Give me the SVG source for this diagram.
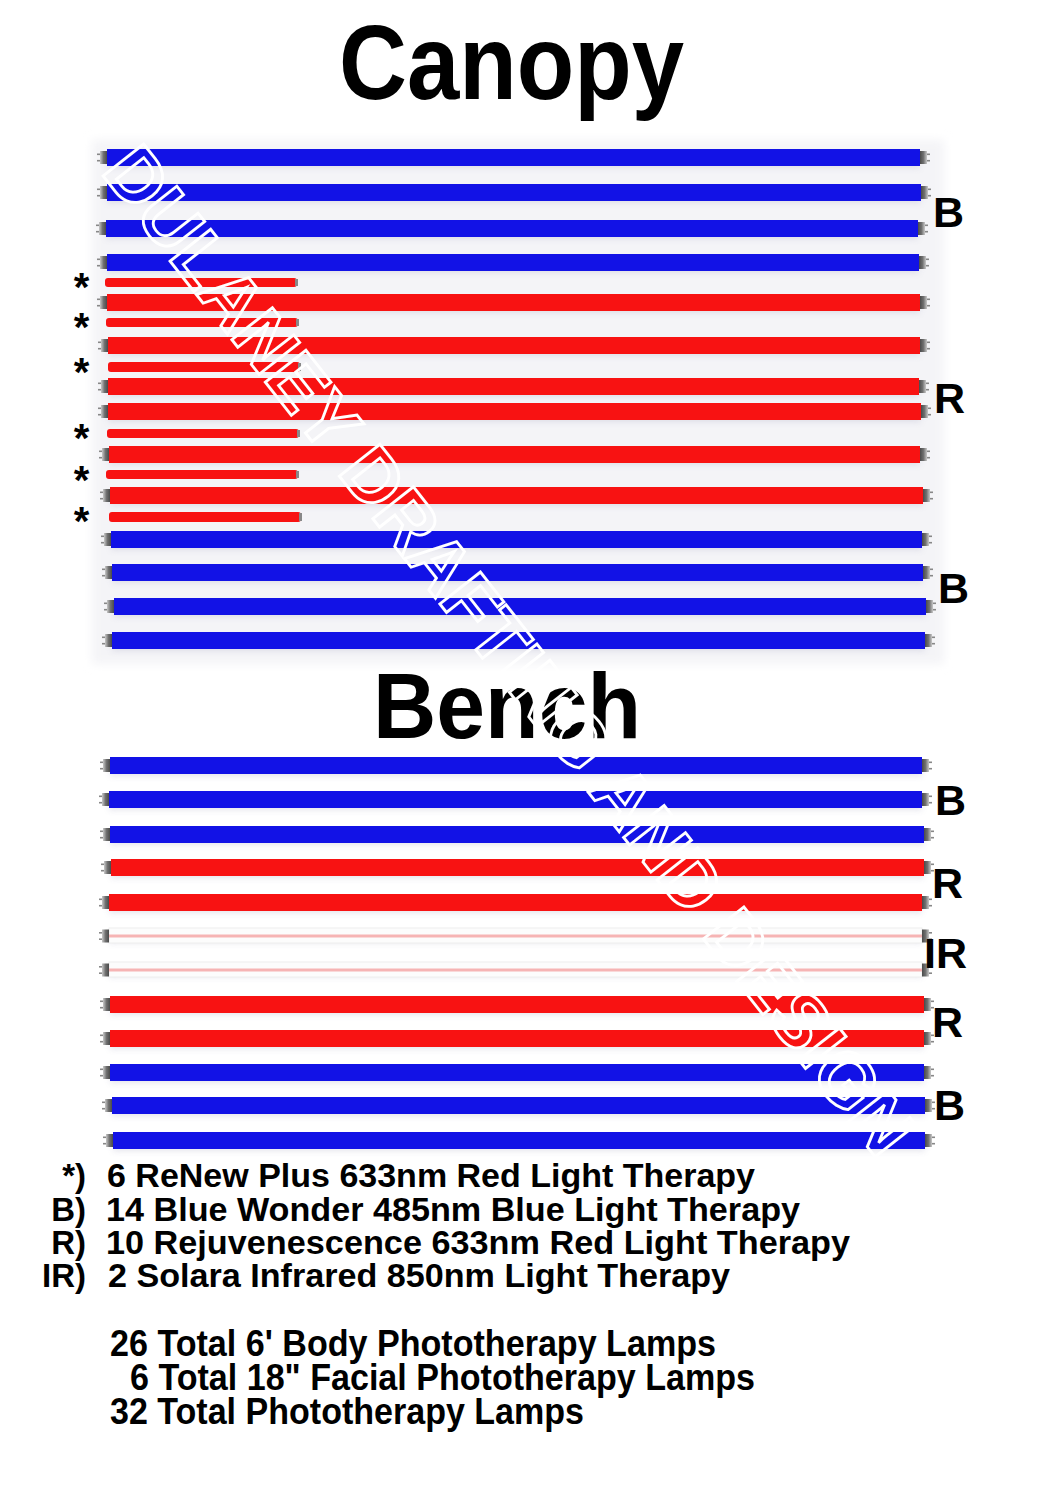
<svg xmlns="http://www.w3.org/2000/svg" width="1040" height="1500" viewBox="0 0 1040 1500">
<style>
  .t { font-family: "Liberation Sans", Arial, sans-serif; font-weight: bold; fill: #000; }
  .title { font-size: 106px; }
  .lbl { font-size: 43px; }
  .ast { font-size: 40px; text-anchor: middle; }
  .leg { font-size: 33px; }
  .leg2 { font-size: 36px; }
  .blue { fill: #1212e6; }
  .red { fill: #f81212; }
  .shadow { fill: #c4c4d6; opacity: 0.45; filter: url(#blur); }
  .ir { fill: #fcfcfc; stroke: #eeeeee; stroke-width: 1; }
  .irline { fill: #f6b4b4; }
  .wm { font-family: "Liberation Sans", Arial, sans-serif; font-weight: bold; font-size: 75px; fill: none; stroke: #ffffff; stroke-width: 2.8; }
</style>
<defs>
  <filter id="blur" x="-5%" y="-100%" width="110%" height="300%"><feGaussianBlur stdDeviation="3"/></filter>
  <filter id="bgblur" x="-5%" y="-5%" width="110%" height="110%"><feGaussianBlur stdDeviation="5"/></filter>
  <linearGradient id="capGrad" x1="0" y1="0" x2="1" y2="0">
    <stop offset="0" stop-color="#c8c8c8"/>
    <stop offset="0.5" stop-color="#707070"/>
    <stop offset="1" stop-color="#4a4a4a"/>
  </linearGradient>
  <linearGradient id="capGradR" x1="1" y1="0" x2="0" y2="0">
    <stop offset="0" stop-color="#c8c8c8"/>
    <stop offset="0.5" stop-color="#707070"/>
    <stop offset="1" stop-color="#4a4a4a"/>
  </linearGradient>
  <g id="capL">
    <rect x="-7" y="-6.5" width="7" height="13" fill="url(#capGrad)"/>
    <rect x="-10" y="-4" width="3" height="1.6" fill="#888"/>
    <rect x="-10" y="2.4" width="3" height="1.6" fill="#888"/>
  </g>
  <g id="capR">
    <rect x="0" y="-6.5" width="7" height="13" fill="url(#capGradR)"/>
    <rect x="7" y="-4" width="3" height="1.6" fill="#888"/>
    <rect x="7" y="2.4" width="3" height="1.6" fill="#888"/>
  </g>
</defs>

<rect width="1040" height="1500" fill="#ffffff"/>
<rect x="92" y="140" width="852" height="524" fill="#f4f4f7" filter="url(#bgblur)"/>

<g id="title-canopy"><text class="t title" x="339" y="99" textLength="345" lengthAdjust="spacingAndGlyphs">Canopy</text></g>

<g id="canopy-tubes">
  <g id="c-b1"><rect class="shadow" x="107" y="155" width="813" height="13"/><rect class="blue" x="107" y="149" width="813" height="17"/><use href="#capL" x="107" y="157.5"/><use href="#capR" x="920" y="157.5"/></g>
  <g id="c-b2"><rect class="shadow" x="107" y="190" width="814" height="13"/><rect class="blue" x="107" y="184" width="814" height="17"/><use href="#capL" x="107" y="192.5"/><use href="#capR" x="921" y="192.5"/></g>
  <g id="c-b3"><rect class="shadow" x="106" y="226" width="812" height="13"/><rect class="blue" x="106" y="220" width="812" height="17"/><use href="#capL" x="106" y="228.5"/><use href="#capR" x="918" y="228.5"/></g>
  <g id="c-b4"><rect class="shadow" x="107" y="260" width="812" height="13"/><rect class="blue" x="107" y="254" width="812" height="17"/><use href="#capL" x="107" y="262.5"/><use href="#capR" x="919" y="262.5"/></g>
  <g id="c-s1"><rect class="red" x="105" y="278" width="192" height="9" rx="3"/><rect x="295" y="279" width="3" height="7" fill="#888"/></g>
  <g id="c-r1"><rect class="shadow" x="107" y="300" width="813" height="13"/><rect class="red" x="107" y="294" width="813" height="17"/><use href="#capL" x="107" y="302.5"/><use href="#capR" x="920" y="302.5"/></g>
  <g id="c-s2"><rect class="red" x="106" y="318" width="192" height="9" rx="3"/><rect x="296" y="319" width="3" height="7" fill="#888"/></g>
  <g id="c-r2"><rect class="shadow" x="108" y="343" width="812" height="13"/><rect class="red" x="108" y="337" width="812" height="17"/><use href="#capL" x="108" y="345.5"/><use href="#capR" x="920" y="345.5"/></g>
  <g id="c-s3"><rect class="red" x="108" y="362" width="192" height="10" rx="3"/><rect x="298" y="363" width="3" height="8" fill="#888"/></g>
  <g id="c-r3"><rect class="shadow" x="108" y="384" width="811" height="13"/><rect class="red" x="108" y="378" width="811" height="17"/><use href="#capL" x="108" y="386.5"/><use href="#capR" x="919" y="386.5"/></g>
  <g id="c-r4"><rect class="shadow" x="108" y="409" width="813" height="13"/><rect class="red" x="108" y="403" width="813" height="17"/><use href="#capL" x="108" y="411.5"/><use href="#capR" x="921" y="411.5"/></g>
  <g id="c-s4"><rect class="red" x="107" y="429" width="192" height="9" rx="3"/><rect x="297" y="430" width="3" height="7" fill="#888"/></g>
  <g id="c-r5"><rect class="shadow" x="109" y="452" width="811" height="13"/><rect class="red" x="109" y="446" width="811" height="17"/><use href="#capL" x="109" y="454.5"/><use href="#capR" x="920" y="454.5"/></g>
  <g id="c-s5"><rect class="red" x="106" y="470" width="192" height="9" rx="3"/><rect x="296" y="471" width="3" height="7" fill="#888"/></g>
  <g id="c-r6"><rect class="shadow" x="110" y="493" width="813" height="13"/><rect class="red" x="110" y="487" width="813" height="17"/><use href="#capL" x="110" y="495.5"/><use href="#capR" x="923" y="495.5"/></g>
  <g id="c-s6"><rect class="red" x="109" y="512" width="192" height="10" rx="3"/><rect x="299" y="513" width="3" height="8" fill="#888"/></g>
  <g id="c-b5"><rect class="shadow" x="111" y="537" width="811" height="13"/><rect class="blue" x="111" y="531" width="811" height="17"/><use href="#capL" x="111" y="539.5"/><use href="#capR" x="922" y="539.5"/></g>
  <g id="c-b6"><rect class="shadow" x="112" y="570" width="811" height="13"/><rect class="blue" x="112" y="564" width="811" height="17"/><use href="#capL" x="112" y="572.5"/><use href="#capR" x="923" y="572.5"/></g>
  <g id="c-b7"><rect class="shadow" x="114" y="604" width="812" height="13"/><rect class="blue" x="114" y="598" width="812" height="17"/><use href="#capL" x="114" y="606.5"/><use href="#capR" x="926" y="606.5"/></g>
  <g id="c-b8"><rect class="shadow" x="112" y="638" width="813" height="13"/><rect class="blue" x="112" y="632" width="813" height="17"/><use href="#capL" x="112" y="640.5"/><use href="#capR" x="925" y="640.5"/></g>
</g>

<g id="canopy-asterisks">
  <text class="t ast" x="81.5" y="301">*</text>
  <text class="t ast" x="81.5" y="341">*</text>
  <text class="t ast" x="81.5" y="386">*</text>
  <text class="t ast" x="81.5" y="452">*</text>
  <text class="t ast" x="81.5" y="494">*</text>
  <text class="t ast" x="81.5" y="535">*</text>
</g>

<g id="canopy-labels">
  <text class="t lbl" x="933" y="227">B</text>
  <text class="t lbl" x="934" y="413">R</text>
  <text class="t lbl" x="938" y="603">B</text>
</g>

<g id="title-bench"><text class="t title" style="font-size:92px" x="373" y="738" textLength="268" lengthAdjust="spacingAndGlyphs">Bench</text></g>

<g id="bench-tubes">
  <g id="b-b1"><rect class="shadow" x="110" y="763" width="812" height="13"/><rect class="blue" x="110" y="757" width="812" height="17"/><use href="#capL" x="110" y="765.5"/><use href="#capR" x="922" y="765.5"/></g>
  <g id="b-b2"><rect class="shadow" x="109" y="797" width="813" height="13"/><rect class="blue" x="109" y="791" width="813" height="17"/><use href="#capL" x="109" y="799.5"/><use href="#capR" x="922" y="799.5"/></g>
  <g id="b-b3"><rect class="shadow" x="110" y="832" width="814" height="13"/><rect class="blue" x="110" y="826" width="814" height="17"/><use href="#capL" x="110" y="834.5"/><use href="#capR" x="924" y="834.5"/></g>
  <g id="b-r1"><rect class="shadow" x="111" y="865" width="813" height="13"/><rect class="red" x="111" y="859" width="813" height="17"/><use href="#capL" x="111" y="867.5"/><use href="#capR" x="924" y="867.5"/></g>
  <g id="b-r2"><rect class="shadow" x="109" y="900" width="813" height="13"/><rect class="red" x="109" y="894" width="813" height="17"/><use href="#capL" x="109" y="902.5"/><use href="#capR" x="922" y="902.5"/></g>
  <g id="b-ir1"><rect class="shadow" x="109" y="933" width="813" height="10"/><rect class="ir" x="109" y="928" width="813" height="15"/><rect class="irline" x="109" y="934.5" width="813" height="3"/><use href="#capL" x="109" y="936"/><use href="#capR" x="922" y="936"/></g>
  <g id="b-ir2"><rect class="shadow" x="109" y="967" width="813" height="10"/><rect class="ir" x="109" y="962" width="813" height="15"/><rect class="irline" x="109" y="968.5" width="813" height="3"/><use href="#capL" x="109" y="970"/><use href="#capR" x="922" y="970"/></g>
  <g id="b-r3"><rect class="shadow" x="110" y="1002" width="814" height="13"/><rect class="red" x="110" y="996" width="814" height="17"/><use href="#capL" x="110" y="1004.5"/><use href="#capR" x="924" y="1004.5"/></g>
  <g id="b-r4"><rect class="shadow" x="110" y="1036" width="814" height="13"/><rect class="red" x="110" y="1030" width="814" height="17"/><use href="#capL" x="110" y="1038.5"/><use href="#capR" x="924" y="1038.5"/></g>
  <g id="b-b4"><rect class="shadow" x="110" y="1070" width="814" height="13"/><rect class="blue" x="110" y="1064" width="814" height="17"/><use href="#capL" x="110" y="1072.5"/><use href="#capR" x="924" y="1072.5"/></g>
  <g id="b-b5"><rect class="shadow" x="112" y="1103" width="813" height="13"/><rect class="blue" x="112" y="1097" width="813" height="17"/><use href="#capL" x="112" y="1105.5"/><use href="#capR" x="925" y="1105.5"/></g>
  <g id="b-b6"><rect class="shadow" x="113" y="1138" width="812" height="13"/><rect class="blue" x="113" y="1132" width="812" height="17"/><use href="#capL" x="113" y="1140.5"/><use href="#capR" x="925" y="1140.5"/></g>
</g>

<g id="bench-labels">
  <text class="t lbl" x="935" y="815">B</text>
  <text class="t lbl" x="932" y="898">R</text>
  <text class="t lbl" x="924" y="968">IR</text>
  <text class="t lbl" x="932" y="1037">R</text>
  <text class="t lbl" x="934" y="1120">B</text>
</g>

<g id="watermark">
  <text class="wm" transform="translate(100,172) rotate(51.8)" x="0" y="0">DULANEY DRAFTING AND DESIGN</text>
</g>

<g id="legend">
  <text class="t leg" x="86" y="1187" text-anchor="end">*)</text>
  <text class="t leg" x="107" y="1187" textLength="648" lengthAdjust="spacingAndGlyphs">6 ReNew Plus 633nm Red Light Therapy</text>
  <text class="t leg" x="86" y="1221" text-anchor="end">B)</text>
  <text class="t leg" x="106" y="1221" textLength="694" lengthAdjust="spacingAndGlyphs">14 Blue Wonder 485nm Blue Light Therapy</text>
  <text class="t leg" x="86" y="1254" text-anchor="end">R)</text>
  <text class="t leg" x="106" y="1254" textLength="744" lengthAdjust="spacingAndGlyphs">10 Rejuvenescence 633nm Red Light Therapy</text>
  <text class="t leg" x="86" y="1287" text-anchor="end">IR)</text>
  <text class="t leg" x="108" y="1287" textLength="622" lengthAdjust="spacingAndGlyphs">2 Solara Infrared 850nm Light Therapy</text>
</g>

<g id="totals">
  <text class="t leg2" x="110" y="1356" textLength="606" lengthAdjust="spacingAndGlyphs">26 Total 6' Body Phototherapy Lamps</text>
  <text class="t leg2" x="130" y="1390" textLength="625" lengthAdjust="spacingAndGlyphs">6 Total 18" Facial Phototherapy Lamps</text>
  <text class="t leg2" x="110" y="1424" textLength="474" lengthAdjust="spacingAndGlyphs">32 Total Phototherapy Lamps</text>
</g>
</svg>
